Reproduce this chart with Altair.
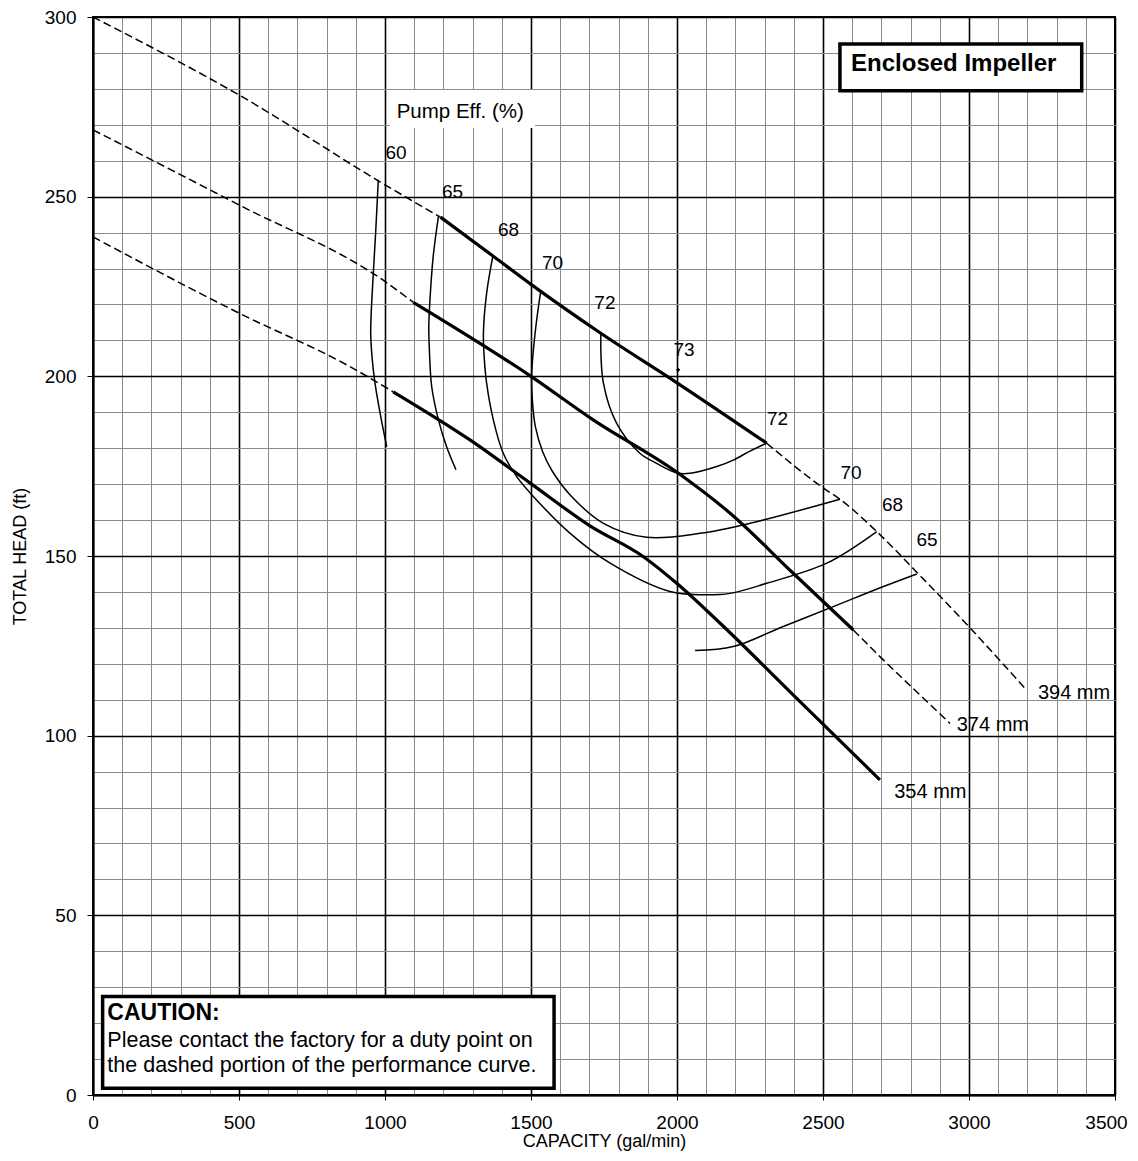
import altair as alt
import pandas as pd

FONT = "Liberation Sans"

# ---------------- head / capacity curves (impeller diameters) ----------------
Q_394 = [0, 500, 1000, 1190, 1371, 1500, 1739, 2000, 2307, 2500, 2558, 2684, 2821, 3000, 3197]
H_394 = [300, 278.3, 253.3, 244.3, 233.4, 225.6, 212, 198.2, 181.4, 169, 165.8, 156.8, 145.5, 130.3, 112.7]
SOLID_394 = [1190, 2307]

Q_374 = [0, 500, 1000, 1097, 1500, 1713, 2000, 2182, 2398, 2604, 2695, 2844, 2935]
H_374 = [268.6, 247.7, 226.4, 220.6, 200, 187.9, 173.3, 161.9, 145.2, 129.4, 122, 110.4, 103.4]
SOLID_374 = [1097, 2604]

Q_354 = [0, 500, 880, 1028, 1291, 1502, 1702, 1885, 1999, 2136, 2410, 2695]
H_354 = [238.8, 217.6, 202.7, 195.7, 182.3, 170, 158.4, 149.8, 142.4, 132.2, 110.4, 87.7]
SOLID_354 = [1028, 2695]

DIAM_LABELS = ["394 mm", "374 mm", "354 mm"]
DIAM_LABEL_Q = [3236, 2958, 2744]
DIAM_LABEL_H = [111.8, 103, 84.4]

# ---------------- efficiency contours ----------------
E60_Q = [977, 968, 960, 953, 951, 956, 966, 985, 1006]
E60_H = [254.7, 240, 228.7, 218, 212, 205, 198, 189, 180.4]

E65A_Q = [1183, 1165, 1154, 1150, 1152, 1160, 1183, 1211, 1243]
E65A_H = [244.5, 233.3, 221.3, 214, 207.3, 197.1, 187.9, 180.4, 174]

E65B_Q = [2062, 2193, 2364, 2535, 2707, 2821]
E65B_H = [123.7, 124.8, 130.4, 135.9, 141.5, 145]

E68_Q = [1369, 1348, 1337, 1340, 1348, 1371, 1405, 1451, 1519, 1634, 1771, 1976, 2090, 2182, 2307, 2513, 2684]
E68_H = [233.3, 223.1, 212, 205, 198.1, 187.9, 178.6, 172.1, 165.6, 156.3, 148, 140.1, 139.2, 139.6, 142.4, 148, 156.8]

E70_Q = [1533, 1514, 1502, 1505, 1515, 1540, 1570, 1634, 1748, 1896, 2079, 2250, 2558]
E70_H = [223.6, 212, 200, 193, 186, 179, 174, 167, 159.1, 155.2, 156.3, 159.1, 165.8]

E72_Q = [1739, 1748, 1793, 1873, 1930, 2000, 2045, 2136, 2193, 2250, 2307]
E72_H = [212, 198.1, 187, 178.6, 175.8, 173.1, 173, 174.9, 176.7, 179.2, 181.4]

EFF_LABELS = ["60", "65", "68", "70", "72", "73", "72", "70", "68", "65"]
EFF_LABEL_Q = [1038, 1231, 1423, 1574, 1753, 2024, 2344, 2596, 2738, 2856]
EFF_LABEL_H = [262.1, 251.4, 240.7, 231.5, 220.3, 207.3, 188.1, 173, 164.3, 154.5]

BEP_Q = [2004]
BEP_H = [201.8]

# ---------------- annotation boxes (data units) ----------------
PUMP_EFF_TEXT = "Pump Eff. (%)"
PUMP_EFF_BOX_Q = [1017, 1514]
PUMP_EFF_BOX_H = [269.1, 279.7]
PUMP_EFF_TEXT_POS = [1040, 273.7]

ENCLOSED_TEXT = "Enclosed Impeller"
ENCLOSED_BOX_Q = [2558, 3386]
ENCLOSED_BOX_H = [279.5, 292.5]
ENCLOSED_TEXT_POS = [2596, 287.0]

CAUTION_TITLE = "CAUTION:"
CAUTION_LINES = ["Please contact the factory for a duty point on",
                 "the dashed portion of the performance curve."]
CAUTION_BOX_Q = [33, 1579]
CAUTION_BOX_H = [1.9, 27.4]
CAUTION_TEXT_Q = 49
CAUTION_TEXT_H = [22.8, 14.9, 8.1]

X_GRID = list(range(0, 3501, 100))
Y_GRID = list(range(0, 301, 10))

# ---------------- build tables ----------------
def head_rows(name, q, h, solid):
    lo, hi = solid
    rows = []
    parts = [
        ("dash", [(a, b) for a, b in zip(q, h) if a <= lo]),
        ("solid", [(a, b) for a, b in zip(q, h) if lo <= a <= hi]),
        ("dash", [(a, b) for a, b in zip(q, h) if a >= hi]),
    ]
    for k, (kind, pts) in enumerate(parts):
        if len(pts) < 2:
            continue
        for i, (a, b) in enumerate(pts):
            rows.append({"q": a, "h": b, "seg": f"{name}-{k}", "kind": kind, "i": i})
    return rows

head = pd.DataFrame(
    head_rows("394", Q_394, H_394, SOLID_394)
    + head_rows("374", Q_374, H_374, SOLID_374)
    + head_rows("354", Q_354, H_354, SOLID_354)
)

eff_rows = []
for name, qs, hs in [("60", E60_Q, E60_H), ("65a", E65A_Q, E65A_H), ("65b", E65B_Q, E65B_H),
                     ("68", E68_Q, E68_H), ("70", E70_Q, E70_H), ("72", E72_Q, E72_H)]:
    for i, (a, b) in enumerate(zip(qs, hs)):
        eff_rows.append({"q": a, "h": b, "seg": name, "i": i})
eff = pd.DataFrame(eff_rows)

eff_lab = pd.DataFrame({"q": EFF_LABEL_Q, "h": EFF_LABEL_H, "t": EFF_LABELS})
diam_lab = pd.DataFrame({"q": DIAM_LABEL_Q, "h": DIAM_LABEL_H, "t": DIAM_LABELS})
bep = pd.DataFrame({"q": BEP_Q, "h": BEP_H})

boxes = pd.DataFrame({
    "q": [PUMP_EFF_BOX_Q[0], ENCLOSED_BOX_Q[0], CAUTION_BOX_Q[0]],
    "q2": [PUMP_EFF_BOX_Q[1], ENCLOSED_BOX_Q[1], CAUTION_BOX_Q[1]],
    "h": [PUMP_EFF_BOX_H[0], ENCLOSED_BOX_H[0], CAUTION_BOX_H[0]],
    "h2": [PUMP_EFF_BOX_H[1], ENCLOSED_BOX_H[1], CAUTION_BOX_H[1]],
    "framed": [0, 1, 1],
})

enclosed_txt = pd.DataFrame({"q": [ENCLOSED_TEXT_POS[0]], "h": [ENCLOSED_TEXT_POS[1]], "t": [ENCLOSED_TEXT]})
caution_title = pd.DataFrame({"q": [CAUTION_TEXT_Q], "h": [CAUTION_TEXT_H[0]], "t": [CAUTION_TITLE]})
caution_body = pd.DataFrame({"q": [CAUTION_TEXT_Q] * 2, "h": CAUTION_TEXT_H[1:], "t": CAUTION_LINES})
pump_txt = pd.DataFrame({"q": [PUMP_EFF_TEXT_POS[0]], "h": [PUMP_EFF_TEXT_POS[1]], "t": [PUMP_EFF_TEXT]})

# ---------------- scales / axes ----------------
x_axis = alt.Axis(
    values=X_GRID,
    format="d",
    title="CAPACITY (gal/min)",
    labelExpr="datum.value % 500 === 0 ? datum.label : ''",
    labelOverlap=False,
    labelFlush=False,
    labelFontSize=19,
    labelPadding=13,
    labelOffset={"condition": {"test": "datum.value === 3500", "value": -9}, "value": 0},
    tickSize=5,
    tickColor="black",
    tickOpacity={"condition": {"test": "datum.value % 500 === 0", "value": 1}, "value": 0},
    grid=True,
    gridColor={"condition": {"test": "datum.value % 500 === 0", "value": "#000000"}, "value": "#8a8a8a"},
    gridWidth={"condition": {"test": "datum.value % 500 === 0", "value": 1.6}, "value": 1},
    titleFontSize=18,
    titleFontWeight="normal",
    titleY=51,
    titleBaseline="alphabetic",
)
y_axis = alt.Axis(
    values=Y_GRID,
    format="d",
    title="TOTAL HEAD (ft)",
    labelExpr="datum.value % 50 === 0 ? datum.label : ''",
    labelOverlap=False,
    labelFlush=False,
    labelFontSize=19,
    labelPadding=11,
    tickSize=6,
    tickColor="black",
    tickOpacity={"condition": {"test": "datum.value % 50 === 0", "value": 1}, "value": 0},
    grid=True,
    gridColor={"condition": {"test": "datum.value % 50 === 0", "value": "#000000"}, "value": "#8a8a8a"},
    gridWidth={"condition": {"test": "datum.value % 50 === 0", "value": 1.6}, "value": 1},
    titleFontSize=18,
    titleFontWeight="normal",
    titleAngle=270,
    titleX=-73,
    titleY=539,
    titleAlign="center",
    titleBaseline="middle",
)

X = alt.X("q:Q", scale=alt.Scale(domain=[0, 3500], nice=False), axis=x_axis)
Y = alt.Y("h:Q", scale=alt.Scale(domain=[0, 300], nice=False), axis=y_axis)

solid = alt.Chart(head).transform_filter("datum.kind === 'solid'").mark_line(
    color="black", strokeWidth=3.2, interpolate="monotone"
).encode(x=X, y=Y, detail="seg:N", order="i:Q")

dashed = alt.Chart(head).transform_filter("datum.kind === 'dash'").mark_line(
    color="black", strokeWidth=1.5, strokeDash=[8, 4], interpolate="monotone"
).encode(x=X, y=Y, detail="seg:N", order="i:Q")

eff_lines = alt.Chart(eff).mark_line(
    color="black", strokeWidth=1.5, interpolate="catmull-rom"
).encode(x=X, y=Y, detail="seg:N", order="i:Q")

bep_mark = alt.Chart(bep).mark_point(
    shape="cross", size=14, filled=True, color="black", opacity=1
).encode(x=X, y=Y)

eff_text = alt.Chart(eff_lab).mark_text(
    align="center", baseline="middle", fontSize=19, font=FONT, color="black"
).encode(x=X, y=Y, text="t:N")

diam_text = alt.Chart(diam_lab).mark_text(
    align="left", baseline="middle", fontSize=20, font=FONT, color="black"
).encode(x=X, y=Y, text="t:N")

box_marks = alt.Chart(boxes).mark_rect(fill="white").encode(
    x=X, x2="q2:Q", y=Y, y2="h2:Q",
    stroke=alt.condition("datum.framed === 1", alt.value("black"), alt.value("white")),
    strokeWidth=alt.condition("datum.framed === 1", alt.value(3.5), alt.value(0)),
)

enclosed_text = alt.Chart(enclosed_txt).mark_text(
    align="left", baseline="middle", fontSize=24, fontWeight="bold", font=FONT, color="black"
).encode(x=X, y=Y, text="t:N")

caution_title_text = alt.Chart(caution_title).mark_text(
    align="left", baseline="middle", fontSize=23, fontWeight="bold", font=FONT, color="black"
).encode(x=X, y=Y, text="t:N")

caution_body_text = alt.Chart(caution_body).mark_text(
    align="left", baseline="middle", fontSize=21.5, font=FONT, color="black"
).encode(x=X, y=Y, text="t:N")

pump_text = alt.Chart(pump_txt).mark_text(
    align="left", baseline="middle", fontSize=20.5, font=FONT, color="black"
).encode(x=X, y=Y, text="t:N")

chart = alt.layer(
    dashed, solid, eff_lines, bep_mark, eff_text, diam_text, box_marks,
    enclosed_text, caution_title_text, caution_body_text, pump_text
).properties(
    width=1022,
    height=1078,
    padding={"left": 85, "top": 9, "right": 15, "bottom": 56},
    autosize=alt.AutoSizeParams(type="none"),
).configure(
    font=FONT,
).configure_axis(
    labelColor="black",
    titleColor="black",
    domainColor="black",
    domainWidth=2,
    labelFont=FONT,
    titleFont=FONT,
).configure_view(
    stroke="black",
    strokeWidth=2,
)

chart.save("out.html", embed_options={"renderer": "svg", "actions": False})
